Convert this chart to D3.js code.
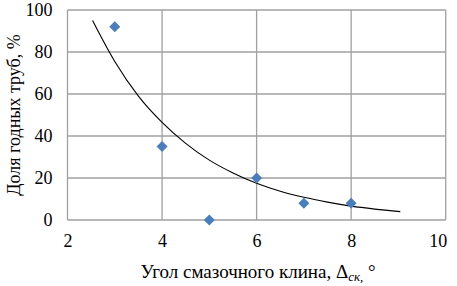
<!DOCTYPE html>
<html lang="ru">
<head>
<meta charset="utf-8">
<title>Доля годных труб</title>
<script src="https://cdn.jsdelivr.net/npm/d3@7"></script>
<style>
  body { margin: 0; background: #ffffff; }
  svg { display: block; }
</style>
</head>
<body>
<script>
// measured points
var angles = [3, 4, 5, 6, 7, 8];
var shares = [92, 35, 0, 20, 8, 8];

// trend line
var trendX = [2.53, 3, 3.5, 4, 4.5, 5, 5.5, 6, 6.5, 7, 7.5, 8, 8.5, 9.04];
var trendY = [95, 75.5, 59, 46.5, 36.5, 28.5, 22.4, 17.5, 13.7, 10.8, 8.5, 6.6, 5.2, 4];

var xTicks = [2, 4, 6, 8, 10];
var yTicks = [0, 20, 40, 60, 80, 100];

var w = 457, h = 286;
var plotLeft = 67.5, plotRight = 445.7, plotTop = 10, plotBottom = 220;
var serif = "Liberation Serif";

var svg = d3.select("body").append("svg")
  .attr("width", w)
  .attr("height", h);

var x = d3.scaleLinear().domain([2, 10]).range([plotLeft, plotRight]);
var y = d3.scaleLinear().domain([0, 100]).range([plotBottom, plotTop]);

var gridColor = "#a0a0a0";

// gridlines
svg.append("g").selectAll("line")
  .data(xTicks)
  .enter().append("line")
  .attr("x1", function(d) { return x(d); })
  .attr("x2", function(d) { return x(d); })
  .attr("y1", plotTop)
  .attr("y2", plotBottom)
  .attr("stroke", gridColor)
  .attr("stroke-width", 1.3);

svg.append("g").selectAll("line")
  .data(yTicks)
  .enter().append("line")
  .attr("x1", plotLeft)
  .attr("x2", plotRight)
  .attr("y1", function(d) { return y(d); })
  .attr("y2", function(d) { return y(d); })
  .attr("stroke", gridColor)
  .attr("stroke-width", 1.3);

// axes (labels only)
var xAxis = svg.append("g")
  .attr("transform", "translate(0," + plotBottom + ")")
  .call(d3.axisBottom(x).tickValues(xTicks).tickSize(0).tickPadding(14));
var yAxis = svg.append("g")
  .attr("transform", "translate(" + plotLeft + ",0)")
  .call(d3.axisLeft(y).tickValues(yTicks).tickSize(0).tickPadding(15));

[xAxis, yAxis].forEach(function(g) {
  g.attr("font-family", serif).attr("font-size", 18);
  g.select(".domain").remove();
  g.selectAll("text")
    .attr("font-family", serif)
    .attr("font-size", 18)
    .attr("fill", "#000");
});
// last label sits inside the picture
xAxis.selectAll(".tick").filter(function(d) { return d === 10; })
  .select("text").attr("text-anchor", "end").attr("dx", "1");

// trend line
var trend = trendX.map(function(d, i) { return [d, trendY[i]]; });
var line = d3.line()
  .x(function(d) { return x(d[0]); })
  .y(function(d) { return y(d[1]); })
  .curve(d3.curveMonotoneX);

svg.append("path")
  .datum(trend)
  .attr("d", line)
  .attr("fill", "none")
  .attr("stroke", "#000")
  .attr("stroke-width", 1.1);

// diamonds
svg.append("g").selectAll("path")
  .data(angles)
  .enter().append("path")
  .attr("transform", function(d, i) {
    return "translate(" + x(d) + "," + y(shares[i]) + ")";
  })
  .attr("d", "M0,-5.5L5.5,0L0,5.5L-5.5,0Z")
  .attr("fill", "#4a7ebb");

// axis titles
var xt = svg.append("text")
  .attr("x", 258)
  .attr("y", 278)
  .attr("text-anchor", "middle")
  .attr("font-family", serif)
  .attr("font-size", 19);
xt.append("tspan").text("Угол смазочного клина, Δ");
xt.append("tspan")
  .attr("font-style", "italic")
  .attr("font-size", 13)
  .attr("dy", 3)
  .text("ск,");
xt.append("tspan")
  .attr("dy", -3)
  .text(" °");

svg.append("text")
  .attr("transform", "translate(20," + ((plotTop + plotBottom) / 2) + ") rotate(-90)")
  .attr("text-anchor", "middle")
  .attr("font-family", serif)
  .attr("font-size", 18)
  .text("Доля годных труб, %");
</script>
</body>
</html>
